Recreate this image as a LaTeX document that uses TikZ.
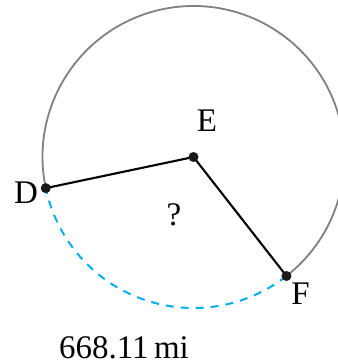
\documentclass[tikz,border=0pt]{standalone}
\usepackage{fontspec}
\setmainfont{Liberation Serif}
\begin{document}
\begin{tikzpicture}[x=1pt,y=-1pt,
  dot/.style={circle,fill=black!90,inner sep=0pt,minimum size=10pt},
  lbl/.style={anchor=base,inner sep=0pt,font=\fontsize{33}{40}\selectfont},
  seg/.style={line width=2.1pt,black},
  rim/.style={line width=1.8pt,color=black!50},
  arcd/.style={line width=2pt,color={rgb,255:red,0;green,174;blue,239},dash pattern=on 8pt off 7pt}]
\useasboundingbox (0,0) rectangle (338,360);
\coordinate (E) at (193.5,157);
\coordinate (D) at ([shift={(168.1:151)}]E);
\coordinate (F) at ([shift={(52:151)}]E);
\draw[rim] (D) arc[start angle=168.1,end angle=412,radius=151];
\draw[arcd] (F) arc[start angle=52,end angle=168.1,radius=151];
\draw[seg] (D) -- (E) -- (F);
\node[dot] (nE) at (E) {};
\node[dot] (nD) at (D) {};
\node[dot] (nF) at (F) {};
\node[lbl] (lE) at (207,131.5) {E};
\node[lbl] (lD) at (26,203.3) {D};
\node[lbl] (lF) at (300.5,304) {F};
\node[lbl] (lq) at (174,225) {?};
\node[lbl] (lm) at (124,358.5) {668.11\,mi};
\end{tikzpicture}
\end{document}
